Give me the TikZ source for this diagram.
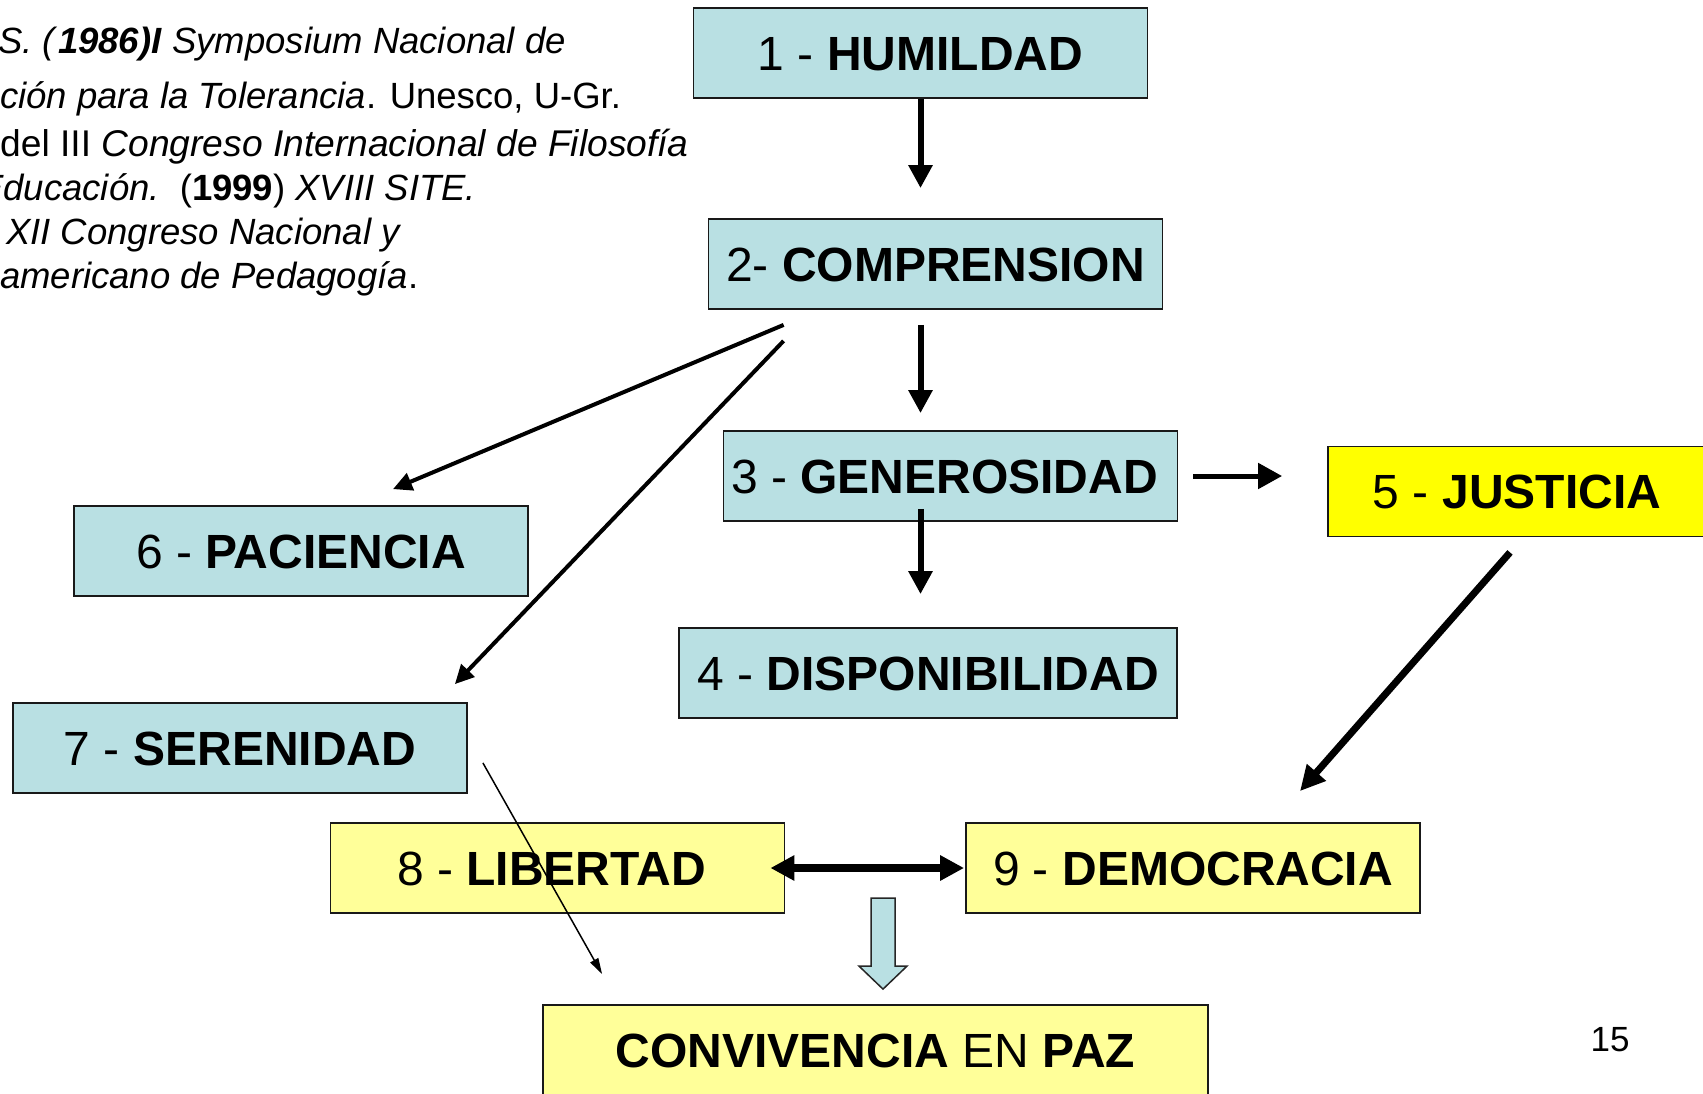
\documentclass[tikz,border=0pt]{standalone}
\usepackage{fontspec}
\setmainfont{Liberation Sans}
\usetikzlibrary{arrows.meta,calc}
\definecolor{lblue}{RGB}{185,224,227}
\definecolor{lyel}{RGB}{255,255,153}
\definecolor{yel}{RGB}{255,255,0}
\newcommand\mycitfont{\fontsize{36.5}{44}\selectfont}
\newcommand\myboxfont{\fontsize{48}{56}\selectfont}
\begin{document}
\begin{tikzpicture}[x=1pt,y=-1pt,
  box/.style={draw=black!90, line width=1.8pt, minimum width=454pt, minimum height=90pt,
    inner sep=0pt, text height=34.4pt, text depth=0pt, font=\myboxfont, anchor=center},
  bluebox/.style={box, fill=lblue},
  yelbox/.style={box, fill=lyel},
  brightbox/.style={box, fill=yel},
  cit/.style={anchor=base west, inner sep=0pt, font=\mycitfont},
  vert/.style={line width=6pt, -{Triangle[length=23pt,width=23pt]}},
  diag/.style={line width=4pt, -{Triangle[length=19pt,width=18pt]}},
  diagthick/.style={line width=7pt, -{Triangle[length=25pt,width=24pt]}},
  twoway/.style={line width=8pt, {Triangle[length=24pt,width=24pt]}-{Triangle[length=24pt,width=24pt]}},
  thin/.style={line width=1.5pt, -{Triangle[length=16pt,width=9pt]}},
  block/.style={draw=black!85, line width=1.5pt, fill=lblue, line join=miter}
]
\clip (0,0) rectangle (1703,1093);

% citation text
\node[cit] (c1) at (-2,53) {\textit{S. (}\textbf{\textit{1986)I}}\textit{ Symposium Nacional de}};
\node[cit] (c2) at (0,108) {\textit{ción para la Tolerancia}. Unesco, U-Gr.};
\node[cit, font=\fontsize{37.2}{44}\selectfont] (c3) at (0,156) {del III \textit{Congreso Internacional de Filosofía}};
\node[cit] (c4) at (-21,200) {\textit{Educación.}\hspace{0.55em}(\textbf{1999}) \textit{XVIII SITE.}};
\node[cit] (c5) at (6,244) {\textit{XII Congreso Nacional y}};
\node[cit] (c6) at (0,288) {\textit{americano de Pedagogía}.};

% boxes
\node[bluebox] (b1) at (920.5,53) {1 - \textbf{HUMILDAD}};
\node[bluebox] (b2) at (935.5,264) {2- \textbf{COMPRENSION}};
\node[bluebox] (b3) at (950.5,476) {\hspace{-12pt}3 - \textbf{GENEROSIDAD}};
\node[bluebox, minimum width=498pt] (b4) at (928,673) {4 - \textbf{DISPONIBILIDAD}};
\node[brightbox, minimum width=378pt] (b5) at (1517,491.5) {5 - \textbf{JUSTICIA}};
\node[bluebox] (b6) at (301,551) {6 - \textbf{PACIENCIA}};
\node[bluebox] (b7) at (240,748) {7 - \textbf{SERENIDAD}};
\node[yelbox] (b8) at (557.5,868) {\hspace{-12pt}8 - \textbf{LIBERTAD}};
\node[yelbox] (b9) at (1193,868) {9 - \textbf{DEMOCRACIA}};
\node[yelbox, minimum width=665pt] (cv) at (875.5,1050) {\textbf{CONVIVENCIA} EN \textbf{PAZ}};
\node[font=\fontsize{35}{40}\selectfont, inner sep=0pt] (pg) at (1610,1040) {15};

% connectors
\draw[vert, shorten >=30pt] (b1.south) -- (b1.south |- b2.north);
\draw[vert, shorten <=15pt, shorten >=17pt] (b1.south |- b2.south) -- (b1.south |- b3.north);
\draw[vert, shorten <=-13pt, shorten >=33pt] (b1.south |- b3.south) -- (b1.south |- b4.north);
\draw[line width=5pt, -{Triangle[length=24pt,width=25pt]}, shorten <=15pt, shorten >=45pt] (b3.east) -- (b3.east -| b5.west);
\draw[diag] ($(b2.south west)+(76,15)$) -- ($(b6.north)+(92,-16)$);
\draw[diag] ($(b2.south west)+(76,31)$) -- ($(b7.north east)+(-13,-18)$);
\draw[diagthick] ($(b5.south)+(-7,15)$) -- ($(b9.north)+(107,-31)$);
\draw[thin] ($(b7.south east)+(15,-31)$) -- ($(cv.north west)+(60,-30)$);
\draw[twoway, shorten <=-15pt, shorten >=1pt] (b8.east) -- (b9.west);

% block arrow
\coordinate (ba) at ($(cv.north)+(7.5,-106)$);
\draw[block] (ba) ++(-12,0) -- ++(24,0) -- ++(0,68) -- ++(12,0) -- ++(-24,23) -- ++(-24,-23) -- ++(12,0) -- cycle;
\end{tikzpicture}
\end{document}
